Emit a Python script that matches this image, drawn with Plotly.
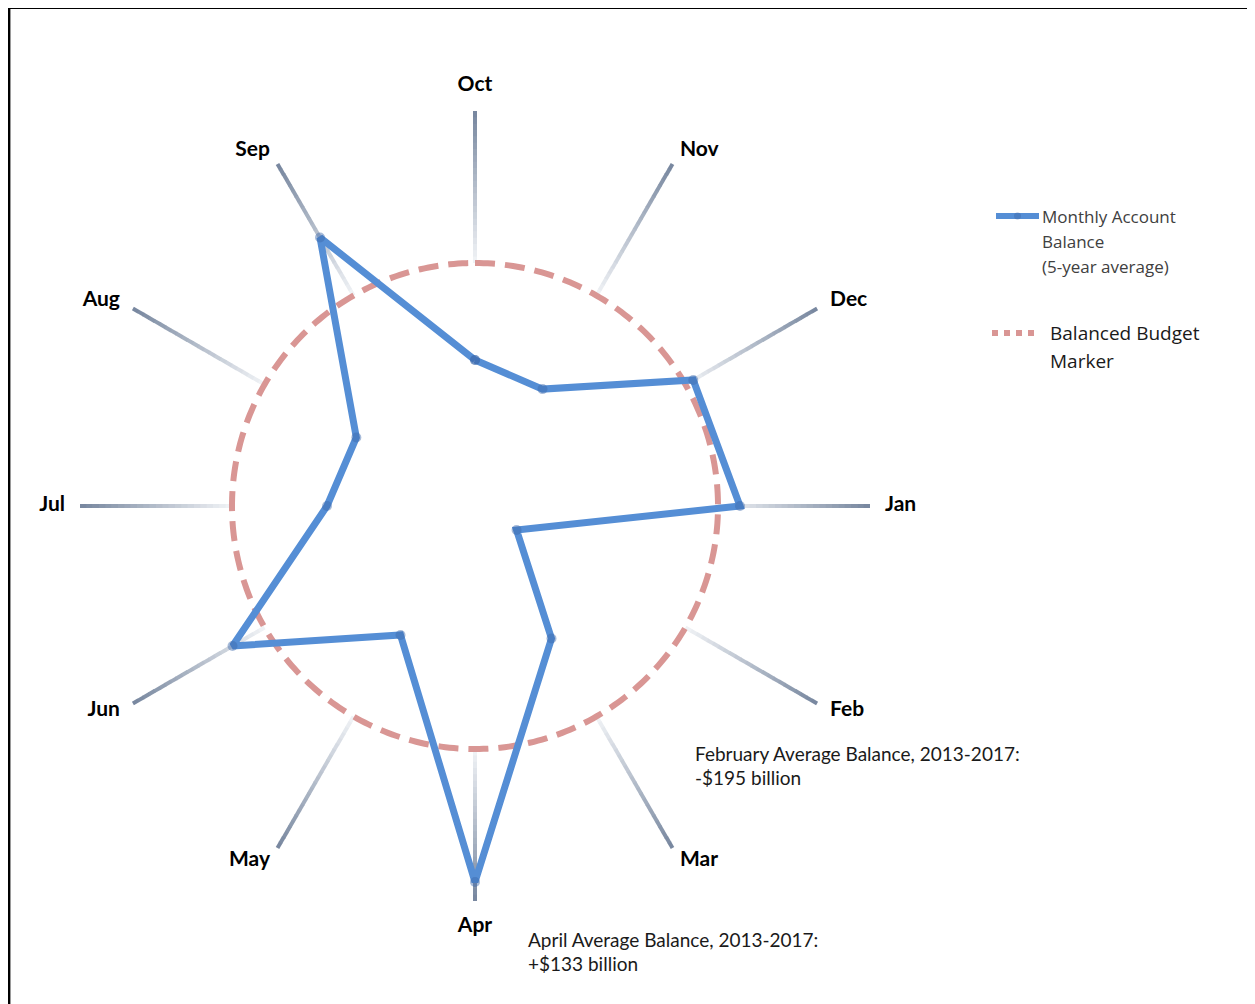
import plotly.graph_objects as go

W, H = 1255, 1004
OX, OY = 8, 8   # page body margin offset

# ---- data ----
months = ["Oct", "Nov", "Dec", "Jan", "Feb", "Mar", "Apr", "May", "Jun", "Jul", "Aug", "Sep"]
balance = [-97, -108, 9, 22, -195, -90, 133, -94, 37, -95, -106, 67]  # $ billion, 5-yr avg
series_name = "Monthly Account Balance (5-year average)"
marker_name = "Balanced Budget Marker"
balanced_level = 0
r_min, r_max = -243, 200          # radial axis range
spoke_end = 152                    # outer end of the month spokes
label_r = 167                      # anchor radius of the month labels
label_pos = ["top center", "middle right", "middle right", "middle right", "middle right", "middle right",
             "bottom center", "middle left", "middle left", "middle left", "middle left", "middle left"]
feb_note = ["February Average Balance, 2013-2017:", "-$195 billion"]
apr_note = ["April Average Balance, 2013-2017:", "+$133 billion"]

BLUE = "#558ED5"
RED = "#D99694"

step = 360 / len(months)
thetas = [i * step for i in range(len(months))]

fig = go.Figure()

# ---- gradient spokes (light near circle -> dark at outer end) ----
n_seg = 24
c_in = (242, 244, 247)
c_out = (118, 134, 158)
for k in range(n_seg):
    r0 = balanced_level + (spoke_end - balanced_level) * k / n_seg
    r1 = balanced_level + (spoke_end - balanced_level) * (k + 1) / n_seg + 0.6
    t = (k + 0.5) / n_seg
    col = tuple(round(c_in[j] + (c_out[j] - c_in[j]) * t) for j in range(3))
    rr, tt = [], []
    for th in thetas:
        rr += [r0, min(r1, spoke_end), None]
        tt += [th, th, None]
    fig.add_trace(go.Scatterpolar(r=rr, theta=tt, mode="lines",
                                  line=dict(color="rgb(%d,%d,%d)" % col, width=4),
                                  hoverinfo="skip", showlegend=False))

# ---- balanced budget circle ----
circ_t = [i for i in range(0, 361)]
fig.add_trace(go.Scatterpolar(r=[balanced_level] * len(circ_t), theta=circ_t, mode="lines",
                              line=dict(color=RED, width=6, dash="20px,10px"),
                              name=marker_name, showlegend=False, hoverinfo="skip"))

# ---- monthly balance line ----
fig.add_trace(go.Scatterpolar(r=balance + balance[:1], theta=thetas + thetas[:1],
                              mode="lines+markers",
                              line=dict(color=BLUE, width=7),
                              marker=dict(color="rgba(60,105,170,0.45)", size=10),
                              name=series_name, showlegend=False))

# ---- month labels ----
fig.add_trace(go.Scatterpolar(r=[label_r] * len(months), theta=thetas, mode="text",
                              text=months, textposition=label_pos, cliponaxis=False,
                              textfont=dict(family="Lato", size=21, color="#000000", weight="bold"),
                              hoverinfo="skip", showlegend=False))

cx, cy = 475 - OX, 506 - OY
R = r_max - r_min
fig.update_layout(
    width=W, height=H,
    margin=dict(l=0, r=0, t=0, b=0),
    paper_bgcolor="white", plot_bgcolor="white",
    polar=dict(
        domain=dict(x=[(cx - R) / W, (cx + R) / W], y=[(H - cy - R) / H, (H - cy + R) / H]),
        bgcolor="rgba(0,0,0,0)",
        radialaxis=dict(range=[r_min, r_max], visible=False),
        angularaxis=dict(rotation=90, direction="clockwise", visible=False,
                         showgrid=False, showline=False, showticklabels=False),
    ),
    showlegend=False,
)

def px(x):
    return (x - OX) / W

def py(y):
    return 1 - (y - OY) / H

shapes = []
# frame (top and left edges)
shapes.append(dict(type="line", xref="paper", yref="paper", x0=px(8), x1=px(W + 8), y0=py(8), y1=py(8),
                   line=dict(color="black", width=2)))
shapes.append(dict(type="line", xref="paper", yref="paper", x0=px(9), x1=px(9), y0=py(8), y1=py(H + 8),
                   line=dict(color="black", width=2)))
shapes.append(dict(type="line", xref="paper", yref="paper", x0=px(10.5), x1=px(10.5), y0=py(9), y1=py(H + 8),
                   line=dict(color="#9a9a9a", width=1)))
# legend symbols
shapes.append(dict(type="line", xref="paper", yref="paper", x0=px(996), x1=px(1039), y0=py(216), y1=py(216),
                   line=dict(color=BLUE, width=6)))
shapes.append(dict(type="circle", xref="paper", yref="paper", x0=px(1014), x1=px(1021), y0=py(212.5), y1=py(219.5),
                   fillcolor="rgba(60,105,170,0.45)", line=dict(width=0)))
shapes.append(dict(type="line", xref="paper", yref="paper", x0=px(992), x1=px(1034), y0=py(333), y1=py(333),
                   line=dict(color=RED, width=6, dash="6px,6px")))

ann = []
leg1 = ["Monthly Account", "Balance", "(5-year average)"]
for i, s in enumerate(leg1):
    ann.append(dict(x=px(1040), y=py(216 + 25 * i), xref="paper", yref="paper", text=s, showarrow=False,
                    xanchor="left", yanchor="middle",
                    font=dict(family="Open Sans", size=17, color="#404040")))
leg2 = ["Balanced Budget", "Marker"]
for i, s in enumerate(leg2):
    ann.append(dict(x=px(1048), y=py(333 + 28 * i), xref="paper", yref="paper", text=s, showarrow=False,
                    xanchor="left", yanchor="middle",
                    font=dict(family="Open Sans", size=19, color="#1a1a1a")))
for i, s in enumerate(feb_note):
    ann.append(dict(x=px(693), y=py(753 + 24 * i), xref="paper", yref="paper", text=s, showarrow=False,
                    xanchor="left", yanchor="middle",
                    font=dict(family="Lato", size=19, color="#1a1a1a")))
for i, s in enumerate(apr_note):
    ann.append(dict(x=px(526), y=py(939 + 24 * i), xref="paper", yref="paper", text=s, showarrow=False,
                    xanchor="left", yanchor="middle",
                    font=dict(family="Lato", size=19, color="#1a1a1a")))

fig.update_layout(shapes=shapes, annotations=ann)
fig.write_html("out.html")
